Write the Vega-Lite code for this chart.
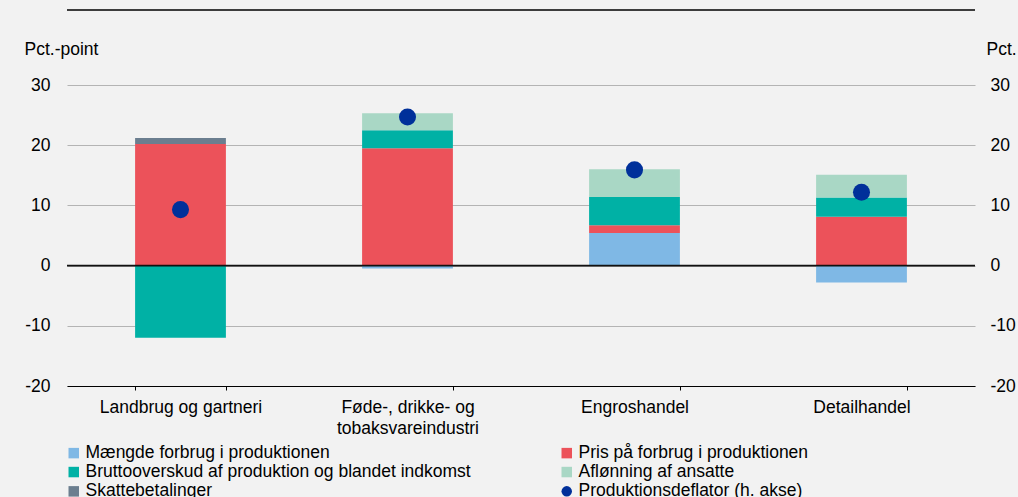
{
  "$schema": "https://vega.github.io/schema/vega-lite/v6.json",
  "width": 908,
  "height": 301,
  "autosize": {"type": "none"},
  "padding": {"left": 67, "top": 85, "right": 43, "bottom": 111},
  "background": "#f2f2f2",
  "config": {
    "font": "Liberation Sans",
    "view": {"stroke": null},
    "axis": {
      "labelFont": "Liberation Sans",
      "labelFontSize": 17.5,
      "labelColor": "#000000",
      "titleFont": "Liberation Sans",
      "titleFontSize": 17.5,
      "titleFontWeight": "normal",
      "titleColor": "#000000"
    },
    "legend": {
      "labelFont": "Liberation Sans",
      "labelFontSize": 17.5,
      "labelColor": "#000000",
      "labelLimit": 0
    }
  },
  "datasets": {
    "bars": [
      {"sektor": "Landbrug og gartneri", "serie": "Pris på forbrug i produktionen", "stak": 2, "vaerdi": 20.2},
      {"sektor": "Landbrug og gartneri", "serie": "Bruttooverskud af produktion og blandet indkomst", "stak": 3, "vaerdi": -12.0},
      {"sektor": "Landbrug og gartneri", "serie": "Skattebetalinger", "stak": 5, "vaerdi": 1.0},
      {"sektor": "Føde-, drikke- og tobaksvareindustri", "serie": "Mængde forbrug i produktionen", "stak": 1, "vaerdi": -0.5},
      {"sektor": "Føde-, drikke- og tobaksvareindustri", "serie": "Pris på forbrug i produktionen", "stak": 2, "vaerdi": 19.5},
      {"sektor": "Føde-, drikke- og tobaksvareindustri", "serie": "Bruttooverskud af produktion og blandet indkomst", "stak": 3, "vaerdi": 3.0},
      {"sektor": "Føde-, drikke- og tobaksvareindustri", "serie": "Aflønning af ansatte", "stak": 4, "vaerdi": 2.8},
      {"sektor": "Engroshandel", "serie": "Mængde forbrug i produktionen", "stak": 1, "vaerdi": 5.4},
      {"sektor": "Engroshandel", "serie": "Pris på forbrug i produktionen", "stak": 2, "vaerdi": 1.3},
      {"sektor": "Engroshandel", "serie": "Bruttooverskud af produktion og blandet indkomst", "stak": 3, "vaerdi": 4.7},
      {"sektor": "Engroshandel", "serie": "Aflønning af ansatte", "stak": 4, "vaerdi": 4.6},
      {"sektor": "Detailhandel", "serie": "Mængde forbrug i produktionen", "stak": 1, "vaerdi": -2.8},
      {"sektor": "Detailhandel", "serie": "Pris på forbrug i produktionen", "stak": 2, "vaerdi": 8.1},
      {"sektor": "Detailhandel", "serie": "Bruttooverskud af produktion og blandet indkomst", "stak": 3, "vaerdi": 3.2},
      {"sektor": "Detailhandel", "serie": "Aflønning af ansatte", "stak": 4, "vaerdi": 3.8}
    ],
    "defl": [
      {"sektor": "Landbrug og gartneri", "serie": "Produktionsdeflator (h. akse)", "vaerdi": 9.3},
      {"sektor": "Føde-, drikke- og tobaksvareindustri", "serie": "Produktionsdeflator (h. akse)", "vaerdi": 24.7},
      {"sektor": "Engroshandel", "serie": "Produktionsdeflator (h. akse)", "vaerdi": 15.9},
      {"sektor": "Detailhandel", "serie": "Produktionsdeflator (h. akse)", "vaerdi": 12.2}
    ],
    "nul": [{"niveau": 0}]
  },
  "layer": [
    {
      "layer": [
        {
          "data": {"name": "bars"},
          "mark": {"type": "bar"},
          "encoding": {
            "x": {
              "field": "sektor",
              "type": "nominal",
              "sort": null,
              "scale": {"paddingInner": 0.6, "paddingOuter": 0.3},
              "axis": {
                "title": null,
                "labelAngle": 0,
                "labelPadding": 8,
                "tickSize": 4,
                "tickColor": "#000000",
                "tickBand": "extent",
                "domainColor": "#000000",
                "domainWidth": 1,
                "labelBaseline": "top",
                "labelLineHeight": 21.5,
                "labelExpr": "datum.label == 'Føde-, drikke- og tobaksvareindustri' ? ['Føde-, drikke- og', 'tobaksvareindustri'] : datum.label"
              }
            },
            "y": {
              "field": "vaerdi",
              "type": "quantitative",
              "stack": "zero",
              "scale": {"domain": [-20, 30], "nice": false, "zero": false},
              "axis": {
                "values": [-20, -10, 0, 10, 20, 30],
                "labelExpr": "'' + datum.value",
                "grid": true,
                "gridColor": "#b4b4b4",
                "gridWidth": 1,
                "domain": false,
                "ticks": false,
                "labelPadding": 17,
                "title": "Pct.-point",
                "titleAngle": 0,
                "titleAlign": "left",
                "titleBaseline": "alphabetic",
                "titleX": -43,
                "titleY": -31
              }
            },
            "order": {"field": "stak", "type": "quantitative", "sort": "ascending"},
            "color": {
              "field": "serie",
              "type": "nominal",
              "scale": {
                "domain": ["Mængde forbrug i produktionen", "Bruttooverskud af produktion og blandet indkomst", "Skattebetalinger", "Pris på forbrug i produktionen", "Aflønning af ansatte", "Produktionsdeflator (h. akse)"],
                "range": ["#7fb8e5", "#00b1a5", "#6b7e8f", "#ec525a", "#a9d7c5", "#00309a"]
              },
              "legend": {
                "title": null,
                "orient": "none",
                "legendX": -2,
                "legendY": 359,
                "columns": 2,
                "columnPadding": 87,
                "rowPadding": 0.3,
                "padding": 0,
                "symbolSize": 110,
                "labelOffset": 3,
                "direction": "vertical"
              }
            }
          }
        },
        {
          "data": {"name": "nul"},
          "mark": {"type": "rule", "color": "#111111", "strokeWidth": 1.6},
          "encoding": {"y": {"field": "niveau", "type": "quantitative"}}
        },
        {
          "data": {"name": "nul"},
          "mark": {"type": "rule", "color": "#000000", "strokeWidth": 1.5, "clip": false},
          "encoding": {"y": {"datum": 42.45}}
        }
      ]
    },
    {
      "data": {"name": "defl"},
      "mark": {"type": "point", "filled": true, "opacity": 1, "size": 290},
      "encoding": {
        "x": {"field": "sektor", "type": "nominal", "sort": null},
        "y": {
          "field": "vaerdi",
          "type": "quantitative",
          "scale": {"domain": [-20, 30], "nice": false, "zero": false},
          "axis": {
            "orient": "right",
            "values": [-20, -10, 0, 10, 20, 30],
            "labelExpr": "'' + datum.value",
            "grid": false,
            "domain": false,
            "ticks": false,
            "labelPadding": 15,
            "title": "Pct.",
            "titleAngle": 0,
            "titleAlign": "left",
            "titleBaseline": "alphabetic",
            "titleX": 11,
            "titleY": -31
          }
        },
        "color": {
          "field": "serie",
          "type": "nominal",
          "scale": {
            "domain": ["Mængde forbrug i produktionen", "Bruttooverskud af produktion og blandet indkomst", "Skattebetalinger", "Pris på forbrug i produktionen", "Aflønning af ansatte", "Produktionsdeflator (h. akse)"],
            "range": ["#7fb8e5", "#00b1a5", "#6b7e8f", "#ec525a", "#a9d7c5", "#00309a"]
          },
          "legend": {
            "title": null,
            "orient": "none",
            "legendX": -2,
            "legendY": 359,
            "columns": 2,
            "columnPadding": 87,
            "rowPadding": 0.3,
            "padding": 0,
            "symbolSize": 110,
            "labelOffset": 3,
            "direction": "vertical"
          }
        },
        "shape": {
          "field": "serie",
          "type": "nominal",
          "scale": {
            "domain": ["Mængde forbrug i produktionen", "Bruttooverskud af produktion og blandet indkomst", "Skattebetalinger", "Pris på forbrug i produktionen", "Aflønning af ansatte", "Produktionsdeflator (h. akse)"],
            "range": ["square", "square", "square", "square", "square", "circle"]
          },
          "legend": {
            "title": null,
            "orient": "none",
            "legendX": -2,
            "legendY": 359,
            "columns": 2,
            "columnPadding": 87,
            "rowPadding": 0.3,
            "padding": 0,
            "symbolSize": 110,
            "labelOffset": 3,
            "direction": "vertical"
          }
        }
      }
    }
  ],
  "resolve": {"scale": {"y": "independent"}}
}
